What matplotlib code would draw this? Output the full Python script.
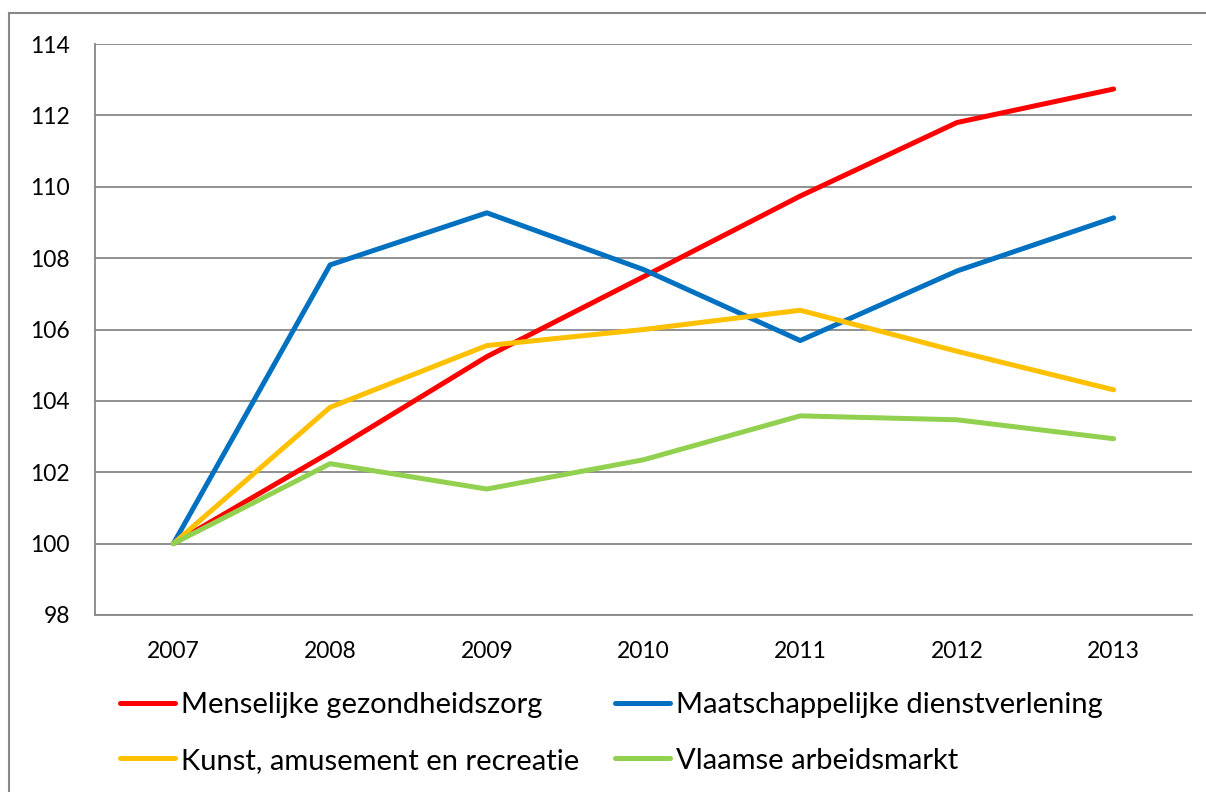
import matplotlib.pyplot as plt
from matplotlib.patches import Rectangle

years = ['2007', '2008', '2009', '2010', '2011', '2012', '2013']
gezondheidszorg = [100, 102.56, 105.24, 107.48, 109.74, 111.8, 112.74]
dienstverlening = [100, 107.81, 109.27, 107.68, 105.69, 107.64, 109.13]
kunst = [100, 103.82, 105.55, 106.0, 106.54, 105.39, 104.31]
arbeidsmarkt = [100, 102.24, 101.53, 102.35, 103.58, 103.47, 102.94]

series = [
    ('Menselijke gezondheidszorg', gezondheidszorg, '#FF0000'),
    ('Maatschappelijke dienstverlening', dienstverlening, '#0070C0'),
    ('Kunst, amusement en recreatie', kunst, '#FFC000'),
    ('Vlaamse arbeidsmarkt', arbeidsmarkt, '#92D050'),
]

plt.rcParams['font.family'] = ['Lato', 'DejaVu Sans']

fig = plt.figure(figsize=(12.06, 7.92), dpi=100)
ax = fig.add_axes([0.0788, 0.2235, 0.9096, 0.7209])

x = list(range(len(years)))
lines = []
for label, vals, color in series:
    ln, = ax.plot(x, vals, color=color, linewidth=3.6, label=label,
                  solid_capstyle='round', solid_joinstyle='round')
    lines.append(ln)

ax.set_xlim(-0.5, len(years) - 0.5)
ax.set_ylim(98, 114)
ax.set_yticks(range(98, 115, 2))
ax.set_xticks(x)
ax.set_xticklabels(years)
ax.grid(axis='y', color='#878787', linewidth=1.3)
ax.set_axisbelow(True)
ax.tick_params(length=0, labelsize=16.5)
ax.tick_params(axis='x', pad=19)
ax.tick_params(axis='y', pad=18)
for side in ['top', 'right']:
    ax.spines[side].set_visible(False)
for side in ['left', 'bottom']:
    ax.spines[side].set_color('#878787')
    ax.spines[side].set_linewidth(1.3)

# legend rows: red/blue, then yellow/green (matplotlib fills by column)
order = [0, 2, 1, 3]
fig.legend([lines[i] for i in order], [series[i][0] for i in order],
           loc='center left', bbox_to_anchor=(120 / 1206, 0.0745), ncol=2,
           frameon=False, fontsize=21, handlelength=1.9, handletextpad=0.2,
           columnspacing=1.2, labelspacing=1.0, borderpad=0, borderaxespad=0)

# outer chart border
fig.patches.append(Rectangle((9 / 1206, -0.05), 1.2, 1 - 13 / 792 + 0.05,
                             transform=fig.transFigure, fill=False,
                             edgecolor='#878787', linewidth=1.5))

fig.savefig('out.png', dpi=100)
